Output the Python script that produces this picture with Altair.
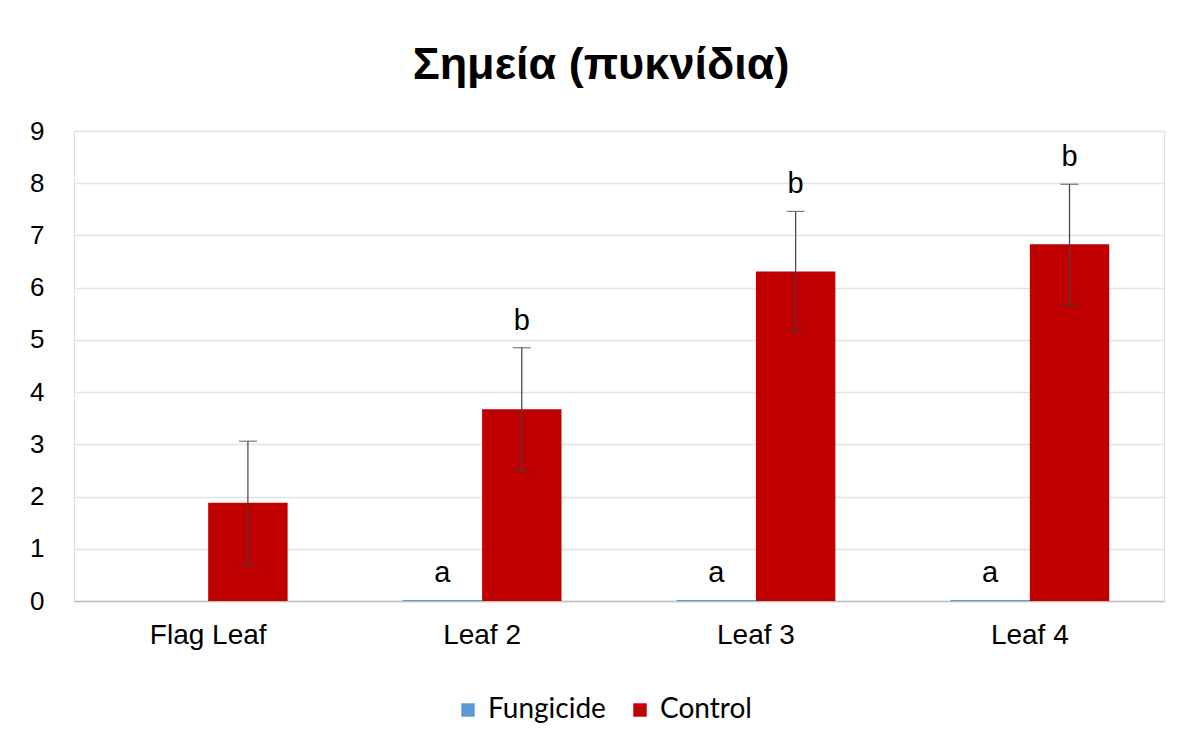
import altair as alt
import pandas as pd

categories = ["Flag Leaf", "Leaf 2", "Leaf 3", "Leaf 4"]
series = ["Fungicide", "Control"]
fungicide_values = [0.0, 0.02, 0.02, 0.02]
fungicide_err = [0.0, 0.0, 0.0, 0.0]
fungicide_letters = ["", "a", "a", "a"]
control_values = [1.88, 3.67, 6.31, 6.83]
control_err = [1.18, 1.18, 1.15, 1.15]
control_letters = ["", "b", "b", "b"]

rows = []
for i, c in enumerate(categories):
    rows.append(dict(cat=c, series="Fungicide", value=fungicide_values[i],
                     err=fungicide_err[i], letter=fungicide_letters[i]))
    rows.append(dict(cat=c, series="Control", value=control_values[i],
                     err=control_err[i], letter=control_letters[i]))
df = pd.DataFrame(rows)
df["lo"] = df["value"] - df["err"]
df["hi"] = df["value"] + df["err"]
df["top"] = df["value"] + df["err"]

x = alt.X("cat:N", sort=categories, title=None,
          scale=alt.Scale(paddingInner=0.42, paddingOuter=0.2),
          axis=alt.Axis(labelAngle=0, labelFont="Liberation Sans", labelFontSize=28,
                        labelColor="#000000", labelPadding=20, ticks=False,
                        domainColor="#bfbfbf", domainWidth=1.5, grid=False))
xo = alt.XOffset("series:N", sort=series)
y = alt.Y("value:Q", title=None,
          scale=alt.Scale(domain=[0, 9], nice=False),
          axis=alt.Axis(values=list(range(10)), labelFont="Liberation Sans",
                        labelFontSize=26, labelColor="#000000", labelPadding=30,
                        ticks=False, domain=False, gridColor="#e3e3e3", gridWidth=1.5))

color = alt.Color("series:N", sort=series, title=None,
                  scale=alt.Scale(domain=series, range=["#5B9BD5", "#C00000"]),
                  legend=alt.Legend(orient="none", legendX=380, legendY=565,
                                    direction="horizontal", symbolType="square",
                                    symbolSize=180, symbolStrokeWidth=0,
                                    labelFont="Lato", labelFontSize=28,
                                    labelColor="#000000", columnPadding=20,
                                    symbolOffset=0, labelOffset=6))

base = alt.Chart(df)
bars = base.mark_bar().encode(x=x, xOffset=xo, y=y, color=color)

ctrl = base.transform_filter(alt.datum.series == "Control")
rule = ctrl.mark_rule(color="#404040", strokeWidth=1.2).encode(
    x=alt.X("cat:N", sort=categories), xOffset=xo,
    y=alt.Y("lo:Q"), y2="hi:Q")
cap_hi = ctrl.mark_tick(color="#404040", thickness=1.2, size=18).encode(
    x=alt.X("cat:N", sort=categories), xOffset=xo, y=alt.Y("hi:Q"))
cap_lo = ctrl.mark_tick(color="#404040", thickness=1.2, size=18).encode(
    x=alt.X("cat:N", sort=categories), xOffset=xo, y=alt.Y("lo:Q"))

letters = base.mark_text(font="Liberation Sans", fontSize=29, color="#000000",
                         baseline="middle", dy=-27).encode(
    x=alt.X("cat:N", sort=categories), xOffset=xo, y=alt.Y("top:Q"),
    text="letter:N")

chart = alt.layer(bars, rule, cap_hi, cap_lo, letters).properties(
    width=1090, height=470,
    title=alt.TitleParams("Σημεία (πυκνίδια)", font="Liberation Sans",
                          fontSize=45, fontWeight="bold", color="#000000",
                          anchor="middle", offset=30, dx=-18),
    autosize=alt.AutoSizeParams(type="none"),
    padding={"left": 66, "top": 123, "right": 25, "bottom": 140},
).configure_view(stroke=None).configure(background="#ffffff")

chart.save("out.html", embed_options={"renderer": "svg", "actions": False})
